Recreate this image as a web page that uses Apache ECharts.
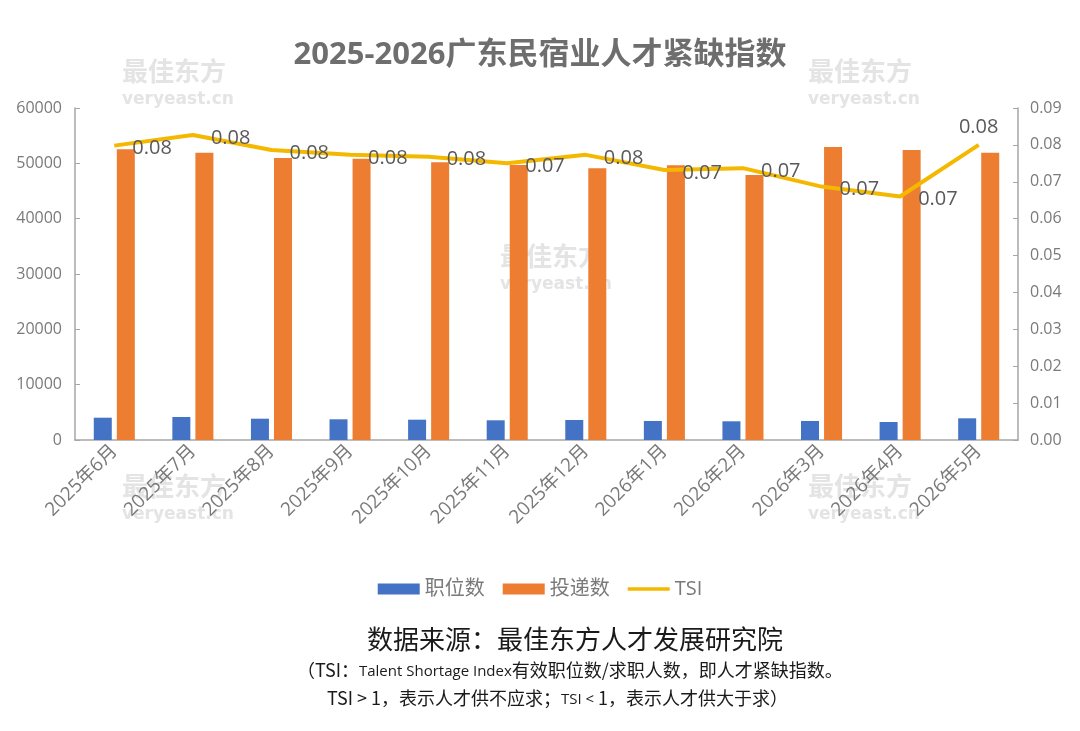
<!DOCTYPE html>
<html>
<head>
<meta charset="utf-8">
<style>
  html, body { margin: 0; padding: 0; background: #fff; }
  #chart { width: 1080px; height: 731px; }
</style>
<script src="https://cdn.jsdelivr.net/npm/echarts@6/dist/echarts.min.js"></script>
</head>
<body>
<div id="chart"></div>
<script>
var months = ['2025年6月', '2025年7月', '2025年8月', '2025年9月', '2025年10月', '2025年11月',
    '2025年12月', '2026年1月', '2026年2月', '2026年3月', '2026年4月', '2026年5月'];
var jobs = [4030, 4160, 3850, 3740, 3670, 3560, 3620, 3440, 3380, 3440, 3250, 3920];
var resumes = [52540, 51930, 50970, 50840, 50190, 49700, 49100, 49640, 47890, 52950, 52410, 51930];
var tsi = [0.0798, 0.0827, 0.0786, 0.0773, 0.0768, 0.0750, 0.0773, 0.0732, 0.0737, 0.0687, 0.0660, 0.0800];

var gray = '#7a7a7a';
var font = '"Open Sans", "Noto Sans CJK SC", sans-serif';
var cjk = '"Noto Sans CJK SC", sans-serif';

// 水印
function mark(x, y) {
    return [{
        type: 'text', left: x, top: y, z: 0,
        style: { text: '最佳东方', fill: '#e4e4e4', font: 'bold 26px ' + cjk, textAlign: 'center' }
    }, {
        type: 'text', left: x, top: y + 33, z: 0,
        style: { text: 'veryeast.cn', fill: '#e4e4e4', font: 'bold 17px "DejaVu Sans", sans-serif', textAlign: 'center' }
    }];
}
var marks = [].concat(mark(122, 58), mark(808, 58), mark(500, 243), mark(122, 473), mark(808, 473));

var small = { fill: '#1a1a1a', font: '15px "Open Sans", sans-serif', lineHeight: 26, verticalAlign: 'bottom' };
var norm = { fill: '#1a1a1a', font: '18px ' + cjk, lineHeight: 26, verticalAlign: 'bottom' };
var footer = [{
    type: 'text', left: 367, top: 626,
    style: { text: '数据来源：最佳东方人才发展研究院', fill: '#1a1a1a', font: '26px ' + cjk }
}, {
    type: 'text', left: 297, top: 661,
    style: {
        text: '{a|（TSI：}{b|Talent Shortage Index}{a|有效职位数/求职人数，即人才紧缺指数。}',
        rich: { a: norm, b: small }
    }
}, {
    type: 'text', left: 327, top: 689,
    style: {
        text: '{a|TSI > 1，表示人才供不应求；}{b|TSI < }{a|1，表示人才供大于求）}',
        rich: { a: norm, b: small }
    }
}];

var chart = echarts.init(document.getElementById('chart'));
var option = {
    backgroundColor: '#fff',
    animation: false,
    title: {
        text: '2025-2026广东民宿业人才紧缺指数',
        left: 'center',
        top: 35,
        textStyle: { color: '#6e6e6e', fontSize: 31, fontWeight: 'bold', fontFamily: font }
    },
    graphic: marks.concat(footer),
    legend: {
        bottom: 127,
        left: 'center',
        itemWidth: 42,
        itemHeight: 11,
        itemGap: 18,
        textStyle: { color: gray, fontSize: 20, fontFamily: font },
        data: [
            { name: '职位数', icon: 'rect' },
            { name: '投递数', icon: 'rect' },
            { name: 'TSI', icon: 'path://M0,0 H42 V3.5 H0 Z' }
        ]
    },
    grid: { left: 75, right: 62, top: 108, bottom: 291 },
    xAxis: {
        type: 'category',
        data: months,
        axisLine: { lineStyle: { color: '#a6a6a6', width: 1.5 } },
        axisTick: { inside: true, length: 7, lineStyle: { color: '#a6a6a6' } },
        axisLabel: { color: gray, fontSize: 19, rotate: 45, margin: 8, fontFamily: font }
    },
    yAxis: [{
        type: 'value',
        min: 0, max: 60000, interval: 10000,
        axisLine: { show: true, lineStyle: { color: '#a6a6a6', width: 1.5 } },
        axisTick: { show: true, inside: true, length: 5, lineStyle: { color: '#a6a6a6' } },
        splitLine: { show: false },
        axisLabel: {
            color: gray, fontSize: 16, margin: 13, fontFamily: font,
            formatter: function (v) { return String(v); }
        }
    }, {
        type: 'value',
        min: 0, max: 0.09, interval: 0.01,
        axisLine: { show: true, lineStyle: { color: '#a6a6a6', width: 1.5 } },
        axisTick: { show: true, inside: true, length: 5, lineStyle: { color: '#a6a6a6' } },
        splitLine: { show: false },
        axisLabel: {
            color: gray, fontSize: 16, margin: 12, fontFamily: font,
            formatter: function (v) { return v.toFixed(2); }
        }
    }],
    series: [{
        name: '职位数',
        type: 'bar',
        data: jobs,
        barWidth: 18,
        barGap: '28%',
        itemStyle: { color: '#4472C4' }
    }, {
        name: '投递数',
        type: 'bar',
        data: resumes,
        barWidth: 18,
        itemStyle: { color: '#ED7D31' }
    }, {
        name: 'TSI',
        type: 'line',
        yAxisIndex: 1,
        data: tsi.map(function (v, i) {
            var last = i === tsi.length - 1;
            return {
                value: v,
                label: last ? { position: 'top', distance: 8 } : { position: 'right', distance: 18, offset: [0, 3] }
            };
        }),
        symbol: 'circle',
        symbolSize: 0,
        showSymbol: true,
        z: 5,
        lineStyle: { color: '#F5B800', width: 4 },
        itemStyle: { color: '#F5B800' },
        label: {
            show: true,
            color: '#595959',
            fontSize: 20,
            fontFamily: font,
            formatter: function (p) { return p.value.toFixed(2); }
        }
    }]
};
chart.setOption(option);
</script>
</body>
</html>
